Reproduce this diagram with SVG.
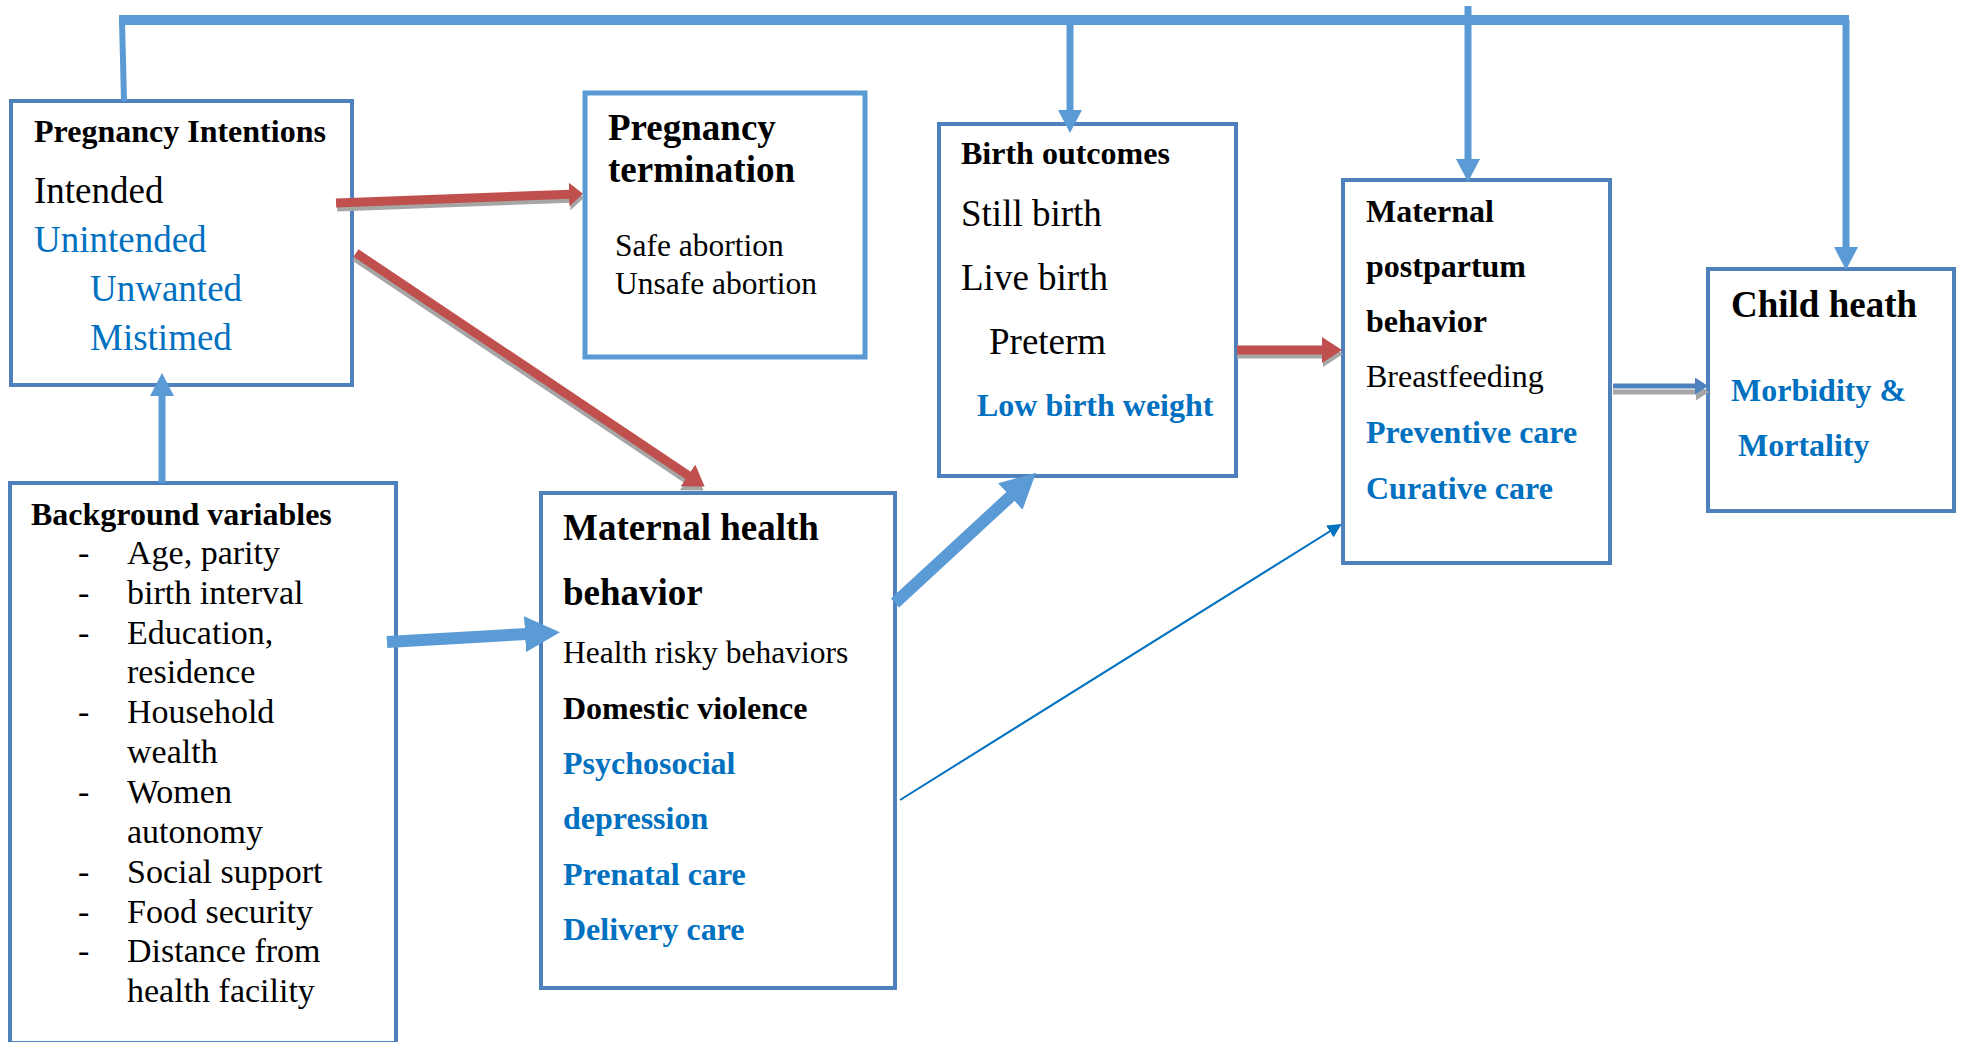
<svg xmlns="http://www.w3.org/2000/svg" width="1965" height="1042" viewBox="0 0 1965 1042">
<style>
.box{fill:#ffffff;stroke:#4f81bd;stroke-width:4}
.box2{fill:#ffffff;stroke:#5b9bd5;stroke-width:5}
text{font-family:"Liberation Serif","Times New Roman",serif;fill:#000000}
.b{font-weight:bold}
.blue{fill:#0070c0}
.red{stroke:#c0504d;stroke-width:9;fill:none}
.sh{stroke:#a6a6a6;stroke-width:9;fill:none}
.lb{stroke:#5b9bd5;fill:none}
</style>
<defs>
<marker id="redHead1" markerUnits="userSpaceOnUse" markerWidth="14" markerHeight="24" refX="8" refY="12" orient="auto">
<path d="M0,0 L14,12 L0,24 Z" fill="#c0504d"/>
</marker>
<marker id="shHead1" markerUnits="userSpaceOnUse" markerWidth="14" markerHeight="24" refX="8" refY="12" orient="auto">
<path d="M0,0 L14,12 L0,24 Z" fill="#a6a6a6"/>
</marker>
<marker id="redHead" markerUnits="userSpaceOnUse" markerWidth="20" markerHeight="26" refX="12" refY="13" orient="auto">
<path d="M0,0 L20,13 L0,26 Z" fill="#c0504d"/>
</marker>
<marker id="shHead" markerUnits="userSpaceOnUse" markerWidth="20" markerHeight="26" refX="12" refY="13" orient="auto">
<path d="M0,0 L20,13 L0,26 Z" fill="#a6a6a6"/>
</marker>
<marker id="blueHead" markerUnits="userSpaceOnUse" markerWidth="35" markerHeight="36" refX="20" refY="18" orient="auto">
<path d="M0,0 L35,18 L0,36 Z" fill="#5b9bd5"/>
</marker>
<marker id="blueSmall" markerUnits="userSpaceOnUse" markerWidth="23" markerHeight="24" refX="15" refY="12" orient="auto">
<path d="M0,0 L23,12 L0,24 Z" fill="#5b9bd5"/>
</marker>
<marker id="blueDark" markerUnits="userSpaceOnUse" markerWidth="13" markerHeight="17" refX="6" refY="8.5" orient="auto">
<path d="M0,0 L13,8.5 L0,17 Z" fill="#4f81bd"/>
</marker>
<marker id="grayDark" markerUnits="userSpaceOnUse" markerWidth="13" markerHeight="17" refX="6" refY="8.5" orient="auto">
<path d="M0,0 L13,8.5 L0,17 Z" fill="#a6a6a6"/>
</marker>
<marker id="thin" markerUnits="userSpaceOnUse" markerWidth="14" markerHeight="14" refX="12" refY="7" orient="auto">
<path d="M0,0 L14,7 L0,14 Z" fill="#0070c0"/>
</marker>
</defs>

<g id="pregnancy-intentions">
<rect class="box" x="11" y="101" width="341" height="284"/>
<text class="b" x="34" y="142" font-size="32">Pregnancy Intentions</text>
<text x="34" y="203" font-size="37">Intended</text>
<text class="blue" x="34" y="252" font-size="37">Unintended</text>
<text class="blue" x="90" y="301" font-size="37">Unwanted</text>
<text class="blue" x="90" y="350" font-size="37">Mistimed</text>
</g>

<g id="pregnancy-termination">
<rect class="box2" x="585" y="93" width="280" height="264"/>
<text class="b" x="608" y="140" font-size="37">Pregnancy</text>
<text class="b" x="608" y="182" font-size="37">termination</text>
<text x="615" y="256" font-size="31.5">Safe abortion</text>
<text x="615" y="294" font-size="31.5">Unsafe abortion</text>
</g>

<g id="birth-outcomes">
<rect class="box" x="939" y="124" width="297" height="352"/>
<text class="b" x="961" y="164" font-size="32">Birth outcomes</text>
<text x="961" y="226" font-size="37">Still birth</text>
<text x="961" y="290" font-size="37">Live birth</text>
<text x="989" y="354" font-size="37">Preterm</text>
<text class="b blue" x="977" y="416" font-size="32">Low birth weight</text>
</g>

<g id="maternal-postpartum">
<rect class="box" x="1343" y="180" width="267" height="383"/>
<text class="b" x="1366" y="222" font-size="32">Maternal</text>
<text class="b" x="1366" y="277" font-size="32">postpartum</text>
<text class="b" x="1366" y="332" font-size="32">behavior</text>
<text x="1366" y="387" font-size="32">Breastfeeding</text>
<text class="b blue" x="1366" y="443" font-size="32">Preventive care</text>
<text class="b blue" x="1366" y="499" font-size="32">Curative care</text>
</g>

<g id="child-health">
<rect class="box" x="1708" y="269" width="246" height="242"/>
<text class="b" x="1731" y="317" font-size="37">Child heath</text>
<text class="b blue" x="1731" y="401" font-size="32">Morbidity &amp;</text>
<text class="b blue" x="1738" y="456" font-size="32">Mortality</text>
</g>

<g id="background-variables">
<rect class="box" x="10" y="483" width="386" height="560"/>
<text class="b" x="31" y="525" font-size="32">Background variables</text>
<g font-size="34">
<text x="78" y="564">-</text><text x="127" y="564">Age, parity</text>
<text x="78" y="604">-</text><text x="127" y="604">birth interval</text>
<text x="78" y="644">-</text><text x="127" y="644">Education,</text>
<text x="127" y="683">residence</text>
<text x="78" y="723">-</text><text x="127" y="723">Household</text>
<text x="127" y="763">wealth</text>
<text x="78" y="803">-</text><text x="127" y="803">Women</text>
<text x="127" y="843">autonomy</text>
<text x="78" y="883">-</text><text x="127" y="883">Social support</text>
<text x="78" y="923">-</text><text x="127" y="923">Food security</text>
<text x="78" y="962">-</text><text x="127" y="962">Distance from</text>
<text x="127" y="1002">health facility</text>
</g>
</g>

<g id="maternal-health-behavior">
<rect class="box" x="541" y="493" width="354" height="495"/>
<text class="b" x="563" y="540" font-size="37">Maternal health</text>
<text class="b" x="563" y="605" font-size="37">behavior</text>
<text x="563" y="663" font-size="31.5">Health risky behaviors</text>
<text class="b" x="563" y="719" font-size="32">Domestic violence</text>
<text class="b blue" x="563" y="774" font-size="32">Psychosocial</text>
<text class="b blue" x="563" y="829" font-size="32">depression</text>
<text class="b blue" x="563" y="885" font-size="32">Prenatal care</text>
<text class="b blue" x="563" y="940" font-size="32">Delivery care</text>
</g>

<g id="connectors">
<!-- top feedback line -->
<path class="lb" stroke-width="6" d="M124,101 L122,20"/>
<path class="lb" stroke-width="10" d="M119,20 L1849,20"/>
<path class="lb" stroke-width="7" d="M1070,20 L1070,125" marker-end="url(#blueSmall)"/>
<path class="lb" stroke-width="7" d="M1468,6 L1468,174" marker-end="url(#blueSmall)"/>
<path class="lb" stroke-width="7" d="M1846,20 L1846,262" marker-end="url(#blueSmall)"/>
<!-- background -> intentions -->
<path class="lb" stroke-width="7" d="M162,483 L162,381" marker-end="url(#blueSmall)"/>
<!-- background -> maternal health -->
<path class="lb" stroke-width="12" d="M387,642 L545,633" marker-end="url(#blueHead)"/>
<!-- maternal health -> birth outcomes -->
<path class="lb" stroke-width="12" d="M895,603 L1025,483" marker-end="url(#blueHead)"/>
<!-- maternal health -> postpartum thin -->
<path stroke="#0070c0" stroke-width="2" fill="none" d="M900,800 L1340,525" marker-end="url(#thin)"/>
<!-- red arrows with shadow -->
<path class="sh" d="M337,207 L578,198" marker-end="url(#shHead1)"/>
<path class="red" d="M336,203 L577,194" marker-end="url(#redHead1)"/>
<path class="sh" d="M355,257 L697,486" marker-end="url(#shHead)"/>
<path class="red" d="M356,253 L698,482" marker-end="url(#redHead)"/>
<path class="sh" d="M1237,354 L1335,354" marker-end="url(#shHead)"/>
<path class="red" d="M1237,350 L1334,350" marker-end="url(#redHead)"/>
<!-- postpartum -> child -->
<path stroke="#a6a6a6" stroke-width="5" fill="none" d="M1613,392 L1702,392" marker-end="url(#grayDark)"/>
<path stroke="#4f81bd" stroke-width="5" fill="none" d="M1613,386 L1701,386" marker-end="url(#blueDark)"/>
</g>
</svg>
